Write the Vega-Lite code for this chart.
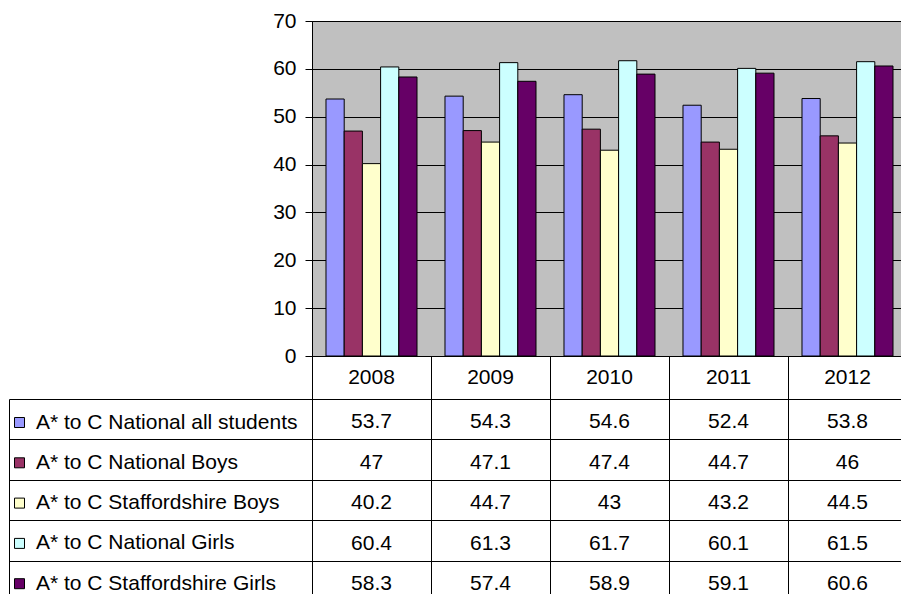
{
  "$schema": "https://vega.github.io/schema/vega-lite/v6.json",
  "width": 589,
  "height": 335,
  "autosize": {"type": "none"},
  "padding": {"left": 312, "top": 21, "right": 0, "bottom": 238},
  "background": "white",
  "config": {
    "font": "Liberation Sans",
    "view": {"fill": "#C0C0C0", "stroke": "black", "strokeWidth": 1},
    "axis": {
      "labelFont": "Liberation Sans",
      "labelFontSize": 21,
      "labelColor": "black",
      "domainColor": "black",
      "tickColor": "black",
      "gridColor": "black",
      "gridOpacity": 1,
      "tickWidth": 1,
      "domainWidth": 1,
      "gridWidth": 1
    },
    "legend": {
      "orient": "none",
      "legendX": -303,
      "legendY": 391,
      "symbolType": "square",
      "symbolSize": 100,
      "symbolStrokeColor": "black",
      "symbolStrokeWidth": 1,
      "symbolOpacity": 1,
      "labelFont": "Liberation Sans",
      "labelFontSize": 21,
      "labelColor": "black",
      "labelOffset": 6,
      "labelLimit": 0,
      "rowPadding": 18.3,
      "padding": 0
    }
  },
  "data": {
    "values": [
      {"year": "2008", "series": "A* to C National all students", "value": 53.7},
      {"year": "2008", "series": "A* to C National Boys", "value": 47},
      {"year": "2008", "series": "A* to C Staffordshire Boys", "value": 40.2},
      {"year": "2008", "series": "A* to C National Girls", "value": 60.4},
      {"year": "2008", "series": "A* to C Staffordshire Girls", "value": 58.3},
      {"year": "2009", "series": "A* to C National all students", "value": 54.3},
      {"year": "2009", "series": "A* to C National Boys", "value": 47.1},
      {"year": "2009", "series": "A* to C Staffordshire Boys", "value": 44.7},
      {"year": "2009", "series": "A* to C National Girls", "value": 61.3},
      {"year": "2009", "series": "A* to C Staffordshire Girls", "value": 57.4},
      {"year": "2010", "series": "A* to C National all students", "value": 54.6},
      {"year": "2010", "series": "A* to C National Boys", "value": 47.4},
      {"year": "2010", "series": "A* to C Staffordshire Boys", "value": 43},
      {"year": "2010", "series": "A* to C National Girls", "value": 61.7},
      {"year": "2010", "series": "A* to C Staffordshire Girls", "value": 58.9},
      {"year": "2011", "series": "A* to C National all students", "value": 52.4},
      {"year": "2011", "series": "A* to C National Boys", "value": 44.7},
      {"year": "2011", "series": "A* to C Staffordshire Boys", "value": 43.2},
      {"year": "2011", "series": "A* to C National Girls", "value": 60.1},
      {"year": "2011", "series": "A* to C Staffordshire Girls", "value": 59.1},
      {"year": "2012", "series": "A* to C National all students", "value": 53.8},
      {"year": "2012", "series": "A* to C National Boys", "value": 46},
      {"year": "2012", "series": "A* to C Staffordshire Boys", "value": 44.5},
      {"year": "2012", "series": "A* to C National Girls", "value": 61.5},
      {"year": "2012", "series": "A* to C Staffordshire Girls", "value": 60.6}
    ]
  },
  "layer": [
    {
      "mark": {"type": "bar", "stroke": "black", "strokeWidth": 1, "opacity": 1},
      "encoding": {
        "x": {
          "field": "year",
          "type": "nominal",
          "scale": {"range": [0, 595], "paddingInner": 0, "paddingOuter": 0},
          "axis": {
            "orient": "bottom",
            "title": null,
            "domain": false,
            "grid": false,
            "ticks": true,
            "bandPosition": 0,
            "tickSize": 240,
            "labelOffset": 0,
            "labelPadding": -218.5,
            "labelBaseline": "middle",
            "labelAlign": "center",
            "labelAngle": 0,
            "labelOverlap": false,
            "labelBound": false,
            "labelFlush": false
          }
        },
        "xOffset": {
          "field": "series",
          "type": "nominal",
          "sort": ["A* to C National all students", "A* to C National Boys", "A* to C Staffordshire Boys", "A* to C National Girls", "A* to C Staffordshire Girls"],
          "scale": {"paddingInner": 0, "paddingOuter": 0.769}
        },
        "y": {
          "field": "value",
          "type": "quantitative",
          "scale": {"domain": [0, 70], "nice": false, "zero": true},
          "axis": {
            "title": null,
            "values": [0, 10, 20, 30, 40, 50, 60, 70],
            "grid": true,
            "domain": true,
            "tickSize": 7,
            "labelPadding": 9
          }
        },
        "fill": {
          "field": "series",
          "type": "nominal",
          "scale": {
            "domain": ["A* to C National all students", "A* to C National Boys", "A* to C Staffordshire Boys", "A* to C National Girls", "A* to C Staffordshire Girls"],
            "range": ["#9999FF", "#993366", "#FFFFCC", "#CCFFFF", "#660066"]
          },
          "legend": {"title": null}
        }
      }
    },
    {
      "mark": {"type": "text", "fontSize": 21, "color": "black", "baseline": "middle", "align": "center", "dy": 3},
      "encoding": {
        "x": {"field": "year", "type": "nominal"},
        "y": {
          "field": "series",
          "type": "nominal",
          "scale": {
            "domain": ["A* to C National all students", "A* to C National Boys", "A* to C Staffordshire Boys", "A* to C National Girls", "A* to C Staffordshire Girls"],
            "range": [378, 580.4],
            "paddingInner": 0,
            "paddingOuter": 0
          },
          "axis": {
            "orient": "left",
            "offset": 303,
            "title": null,
            "labels": false,
            "tickBand": "extent",
            "tickSize": -303,
            "grid": true,
            "domain": true
          }
        },
        "text": {"field": "value", "type": "nominal"}
      }
    }
  ],
  "resolve": {"scale": {"y": "independent"}, "axis": {"y": "independent"}}
}
